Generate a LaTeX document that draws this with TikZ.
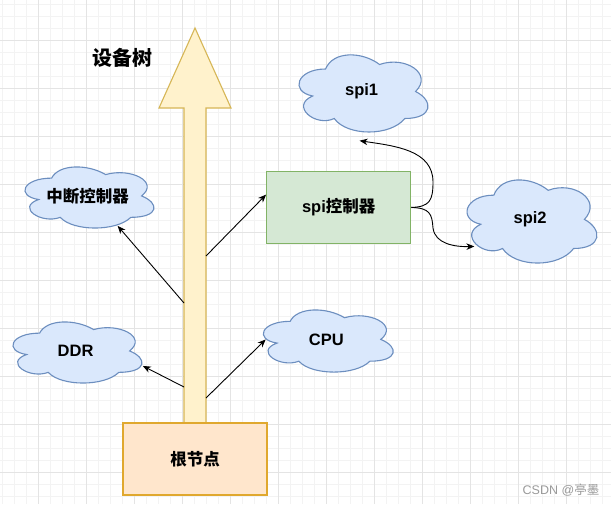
\documentclass[tikz,border=0pt]{standalone}
\usepackage{fontspec}
\setmainfont{Liberation Sans}
\newfontfamily\cjk{Noto Sans CJK SC}
\usetikzlibrary{arrows.meta,calc}
\definecolor{gridminor}{HTML}{F3F3F3}
\definecolor{gridmajor}{HTML}{E4E4E4}
\definecolor{cloudfill}{HTML}{DAE8FC}
\definecolor{cloudline}{HTML}{6C8EBF}
\definecolor{greenfill}{HTML}{D5E8D4}
\definecolor{greenline}{HTML}{82B366}
\definecolor{rootfill}{HTML}{FFE6CC}
\definecolor{rootline}{HTML}{E0A82E}
\definecolor{treefill}{HTML}{FFF2CC}
\definecolor{treeline}{HTML}{D6B656}
\definecolor{markgray}{HTML}{9A9A9A}
\tikzset{
  lbl/.style={font=\fontsize{16.5}{20}\selectfont\bfseries},
  cloudsty/.style={fill=cloudfill, draw=cloudline, line width=1.1pt},
  cloudlabel/.style={lbl, draw=none, inner sep=0pt, rectangle},
  boxsty/.style={lbl, rectangle, line width=1.2pt, inner sep=0pt},
  arr/.style={draw=black, line width=0.9pt, -{Stealth[length=8pt,width=6.5pt,inset=2.5pt]}},
}
\newcommand\cloudat[6]{%
  \begin{scope}[shift={(#2,#3)}, x={(#4pt,0)}, y={(0,-#5pt)}]
    \filldraw[cloudsty] (0.25,0.25) .. controls (0.05,0.25) and (0,0.5) .. (0.16,0.55)
      .. controls (0,0.66) and (0.18,0.9) .. (0.31,0.8)
      .. controls (0.4,1) and (0.7,1) .. (0.8,0.8)
      .. controls (1,0.8) and (1,0.6) .. (0.875,0.5)
      .. controls (1,0.3) and (0.8,0.1) .. (0.625,0.2)
      .. controls (0.5,0.05) and (0.3,0.05) .. (0.25,0.25) -- cycle;
  \end{scope}
  \node[cloudlabel, minimum width=#4pt, minimum height=#5pt] (#1) at (#2+#4/2, #3+#5/2) {#6};}
\begin{document}
\begin{tikzpicture}[x=1pt, y=-1pt]
  \useasboundingbox (0,0) rectangle (611,504);
  \fill[white] (0,0) rectangle (611,504);
  % grid
  \foreach \x in {2,14,...,610} \draw[gridminor, line width=0.8pt] (\x,0) -- (\x,504);
  \foreach \y in {4,16,...,503} \draw[gridminor, line width=0.8pt] (0,\y) -- (611,\y);
  \foreach \x in {38,86,...,610} \draw[gridmajor, line width=0.8pt] (\x,0) -- (\x,504);
  \foreach \y in {40,88,...,503} \draw[gridmajor, line width=0.8pt] (0,\y) -- (611,\y);
  % tree arrow
  \filldraw[fill=treefill, draw=treeline, line width=1.1pt]
    (184,430) -- (184,108) -- (159,108) -- (195,28) -- (231,108) -- (206,108) -- (206,430) -- cycle;
  \node[font=\fontsize{20}{24}\selectfont\bfseries\cjk] (title) at (122.5,58) {设备树};
  % root
  \node[boxsty, fill=rootfill, draw=rootline, minimum width=144pt, minimum height=72pt] (root) at (195,459) {\cjk 根节点};
  % spi controller
  \node[boxsty, fill=greenfill, draw=greenline, minimum width=144pt, minimum height=71.5pt] (spictl) at (338.7,207.4) {spi\cjk 控制器};
  % clouds
  \cloudat{irq}{15.6}{160.3}{144}{71.3}{\cjk 中断控制器}
  \cloudat{ddr}{3.6}{315.3}{144}{71.3}{DDR}
  \cloudat{cpu}{253.9}{303.2}{145}{72.5}{CPU}
  \cloudat{spi1}{289.6}{46.5}{144}{90}{spi1}
  \cloudat{spi2}{457.6}{170.9}{145}{97}{spi2}
  % attach points on the tree trunk
  \coordinate (t1) at (184,303);
  \coordinate (t2) at (206,256);
  \coordinate (t3) at (184,387);
  \coordinate (t4) at (206,398);
  \draw[arr] (t1) -- ($(irq.south)+(30,-6)$);
  \draw[arr] (t2) -- (spictl.170);
  \draw[arr] (t3) -- ($(ddr.east)+(-5,15)$);
  \draw[arr] (t4) -- ($(cpu.west)+(12,0)$);
  % spi controller to spi1 / spi2
  \draw[arr] (spictl.east) .. controls (430,207) and (433,200) .. (433,182)
    .. controls (433,150) and (395,146) .. ($(spi1.south)+(-2,4)$);
  \draw[arr] (spictl.east) .. controls (430,208) and (432,214) .. (433,228)
    .. controls (435,244) and (455,247) .. ($(spi2.west)+(17,27)$);
  % watermark
  \node[font=\fontsize{12.5}{14}\selectfont, text=markgray] (mark) at (561,490) {CSDN @\cjk 亭墨};
\end{tikzpicture}
\end{document}
